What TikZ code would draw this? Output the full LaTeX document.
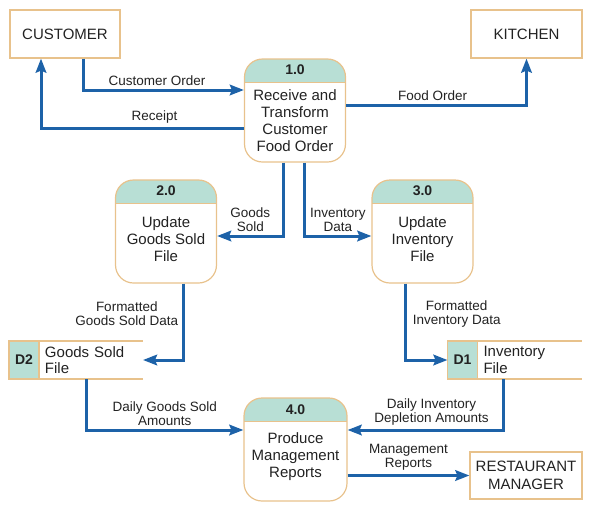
\documentclass[tikz,border=0pt]{standalone}
\usepackage{fontspec}
\setmainfont{Liberation Sans}
\usetikzlibrary{arrows.meta,positioning}
\definecolor{flowblue}{HTML}{1D62A8}
\definecolor{boxedge}{HTML}{E8C28C}
\definecolor{hdrteal}{HTML}{B8DFD5}
\definecolor{ink}{HTML}{222222}

\begin{document}
\begin{tikzpicture}[x=1pt,y=-1pt,
    every node/.style={text=ink},
    entity/.style={draw=boxedge,line width=1.2pt,minimum width=110pt,minimum height=48pt,
      align=center,font=\fontsize{15}{17.5}\selectfont},
    process/.style={draw=boxedge,line width=1.2pt,rounded corners=18pt,minimum width=101pt,minimum height=103pt,
      path picture={\fill[hdrteal,sharp corners] (path picture bounding box.north west) rectangle ([yshift=-23pt]path picture bounding box.north east);
        \draw[boxedge,line width=1pt,sharp corners] ([yshift=-23pt]path picture bounding box.north west) -- ([yshift=-23pt]path picture bounding box.north east);}},
    num/.style={font=\bfseries\fontsize{14}{16}\selectfont},
    ptext/.style={align=center,font=\fontsize{15}{17}\selectfont},
    storeid/.style={draw=boxedge,fill=hdrteal,line width=1.2pt,outer sep=0pt,minimum width=30pt,minimum height=38pt,
      font=\bfseries\fontsize{14}{16}\selectfont},
    storefile/.style={outer sep=0pt,minimum width=104pt,minimum height=38pt,text width=92pt,inner xsep=6pt,
      align=left,font=\fontsize{15}{16.5}\selectfont},
    flow/.style={draw=flowblue,line width=3pt,-{Stealth[length=14pt,width=10.5pt,inset=2pt]}},
    lbl/.style={align=center,font=\fontsize{13.5}{14}\selectfont}]

  \useasboundingbox (0,0) rectangle (592,515);

  % external entities
  \node[entity] (cust) at (65,34) {CUSTOMER};
  \node[entity,minimum width=111pt] (kit) at (526.5,34) {KITCHEN};
  \node[entity,minimum width=112pt,minimum height=47pt] (mgr) at (526,475.5) {RESTAURANT\\MANAGER};

  % processes
  \node[process] (p1) at (295,110.5) {};
  \node[num] (p1n) at ([yshift=-11.5pt]p1.north) {1.0};
  \node[ptext] (p1t) at ([yshift=-10pt]p1.center) {Receive and\\Transform\\Customer\\Food Order};

  \node[process] (p2) at (166,231.5) {};
  \node[num] (p2n) at ([yshift=-11.5pt]p2.north) {2.0};
  \node[ptext] (p2t) at ([yshift=-7.5pt]p2.center) {Update\\Goods Sold\\File};

  \node[process] (p3) at (422.5,231.5) {};
  \node[num] (p3n) at ([yshift=-11.5pt]p3.north) {3.0};
  \node[ptext] (p3t) at ([yshift=-7.5pt]p3.center) {Update\\Inventory\\File};

  \node[process,minimum width=103pt] (p4) at (295.5,449.5) {};
  \node[num] (p4n) at ([yshift=-12pt]p4.north) {4.0};
  \node[ptext] (p4t) at ([yshift=-7.5pt]p4.center) {Produce\\Management\\Reports};

  % data stores
  \node[storeid] (d2) at (24,360) {D2};
  \node[storefile,right=0pt of d2] (d2f) {Goods Sold\\File};
  \draw[boxedge,line width=1.2pt] (d2f.north west) -- (d2f.north east) (d2f.south west) -- (d2f.south east);

  \node[storeid] (d1) at (462.5,360) {D1};
  \node[storefile,right=0pt of d1] (d1f) {Inventory\\File};
  \draw[boxedge,line width=1.2pt] (d1f.north west) -- (d1f.north east) (d1f.south west) -- (d1f.south east);

  % data flows
  \draw[flow] ([xshift=18pt]cust.south) |- node[lbl,above,pos=0.73] {Customer Order} ([yshift=20.5pt]p1.west);
  \draw[flow] ([yshift=-17.5pt]p1.west) -| node[lbl,above,pos=0.22] {Receipt} ([xshift=-24pt]cust.south);
  \draw[flow] ([yshift=5.5pt]p1.east) -| node[lbl,above,pos=0.24] {Food Order} (kit.south);
  \draw[flow] ([xshift=-11.5pt]p1.south) |- node[lbl,above,pos=0.75] {Goods\\Sold} ([yshift=-4.5pt]p2.east);
  \draw[flow] ([xshift=9.5pt]p1.south) |- node[lbl,above,pos=0.75] {Inventory\\Data} ([yshift=-4.5pt]p3.west);
  \draw[flow] ([xshift=17pt]p2.south) |- node[lbl,left,pos=0.2] {Formatted\\Goods Sold Data} (d2f.east);
  \draw[flow] ([xshift=-17.5pt]p3.south) |- node[lbl,right,pos=0.2,xshift=3pt] {Formatted\\Inventory Data} (d1.west);
  \draw[flow] ([xshift=-5pt]d2f.south) |- node[lbl,above,pos=0.75] {Daily Goods Sold\\Amounts} ([yshift=19.5pt]p4.west);
  \draw[flow] ([xshift=-26.5pt]d1f.south) |- node[lbl,above,pos=0.73] {Daily Inventory\\Depletion Amounts} ([yshift=19.5pt]p4.east);
  \draw[flow] (p4.east |- mgr.west) -- node[lbl,above] {Management\\Reports} (mgr.west);
\end{tikzpicture}
\end{document}
